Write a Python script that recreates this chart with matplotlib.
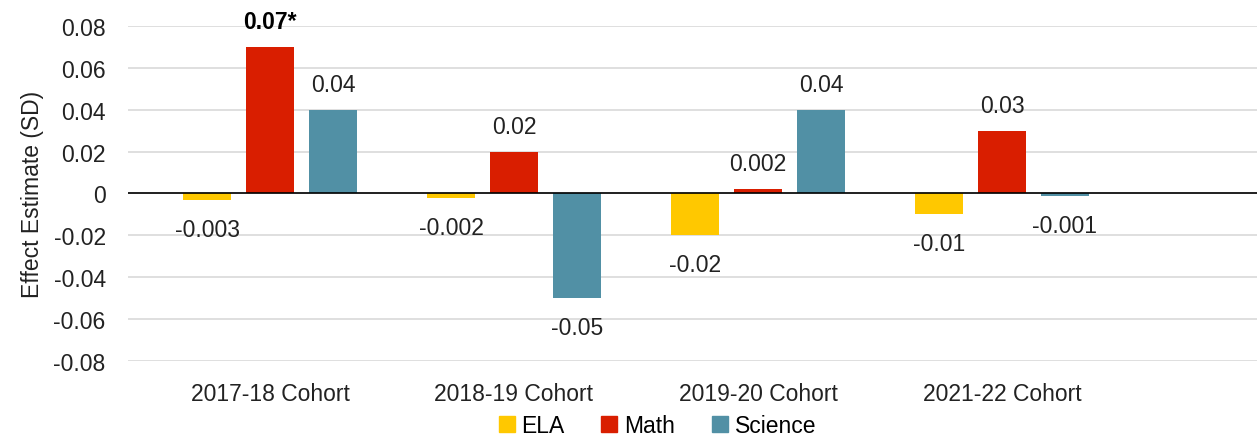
import numpy as np
import matplotlib.pyplot as plt
from matplotlib.patches import Patch

plt.rcParams['font.family'] = ['Liberation Sans', 'DejaVu Sans']

cohorts = ["2017-18 Cohort", "2018-19 Cohort", "2019-20 Cohort", "2021-22 Cohort"]
subjects = ["ELA", "Math", "Science"]
ela = [-0.003, -0.002, -0.02, -0.01]
math = [0.07, 0.02, 0.002, 0.03]
science = [0.04, -0.05, 0.04, -0.001]
ela_labels = ["-0.003", "-0.002", "-0.02", "-0.01"]
math_labels = ["0.07*", "0.02", "0.002", "0.03"]
science_labels = ["0.04", "-0.05", "0.04", "-0.001"]
colors = ["#FFC800", "#D91E00", "#5190A5"]

fs = 16.5
fig = plt.figure(figsize=(12.57, 4.39), dpi=100)
ax = fig.add_axes([0.1018, 0.175, 0.8982, 0.764])

x = np.arange(len(cohorts))
w = 0.2
off = 0.258
series = [(ela, ela_labels), (math, math_labels), (science, science_labels)]
for i, (vals, labs) in enumerate(series):
    xs = x + (i - 1) * off
    ax.bar(xs, vals, width=w, color=colors[i], zorder=3)
    for xi, v, lab in zip(xs, vals, labs):
        bold = lab.endswith("*")
        if v >= 0:
            ax.annotate(lab, (xi, v), xytext=(0, 10), textcoords="offset points",
                        ha="center", va="bottom", fontsize=fs,
                        fontweight="bold" if bold else "normal",
                        color="black" if bold else "#222222", annotation_clip=False)
        else:
            ax.annotate(lab, (xi, v), xytext=(0, -13), textcoords="offset points",
                        ha="center", va="top", fontsize=fs, color="#222222",
                        annotation_clip=False)

ax.set_ylim(-0.08, 0.08)
ax.set_xlim(-0.582, 4.045)
ax.set_yticks(np.arange(-0.08, 0.081, 0.02))
ax.set_yticklabels(["-0.08", "-0.06", "-0.04", "-0.02", "0", "0.02", "0.04", "0.06", "0.08"])
ax.set_xticks(x)
ax.set_xticklabels(cohorts)
ax.tick_params(axis="both", length=0, labelsize=fs, labelcolor="#222222")
ax.tick_params(axis="x", pad=15)
ax.tick_params(axis="y", pad=16)
ax.grid(axis="y", color="#D9D9D9", linewidth=1.2, zorder=0)
ax.axhline(0, color="black", linewidth=1.2, zorder=4)
for s in ax.spines.values():
    s.set_visible(False)
ax.set_ylabel("Effect Estimate (SD)", fontsize=fs, color="#222222", labelpad=7)

handles = [Patch(color=c) for c in colors]
fig.legend(handles, subjects, loc="lower center", bbox_to_anchor=(0.523, -0.045), ncol=3,
           frameon=False, fontsize=fs, handlelength=0.7, handleheight=0.7,
           handletextpad=0.3, columnspacing=1.6)

fig.savefig("out.png", dpi=100)
